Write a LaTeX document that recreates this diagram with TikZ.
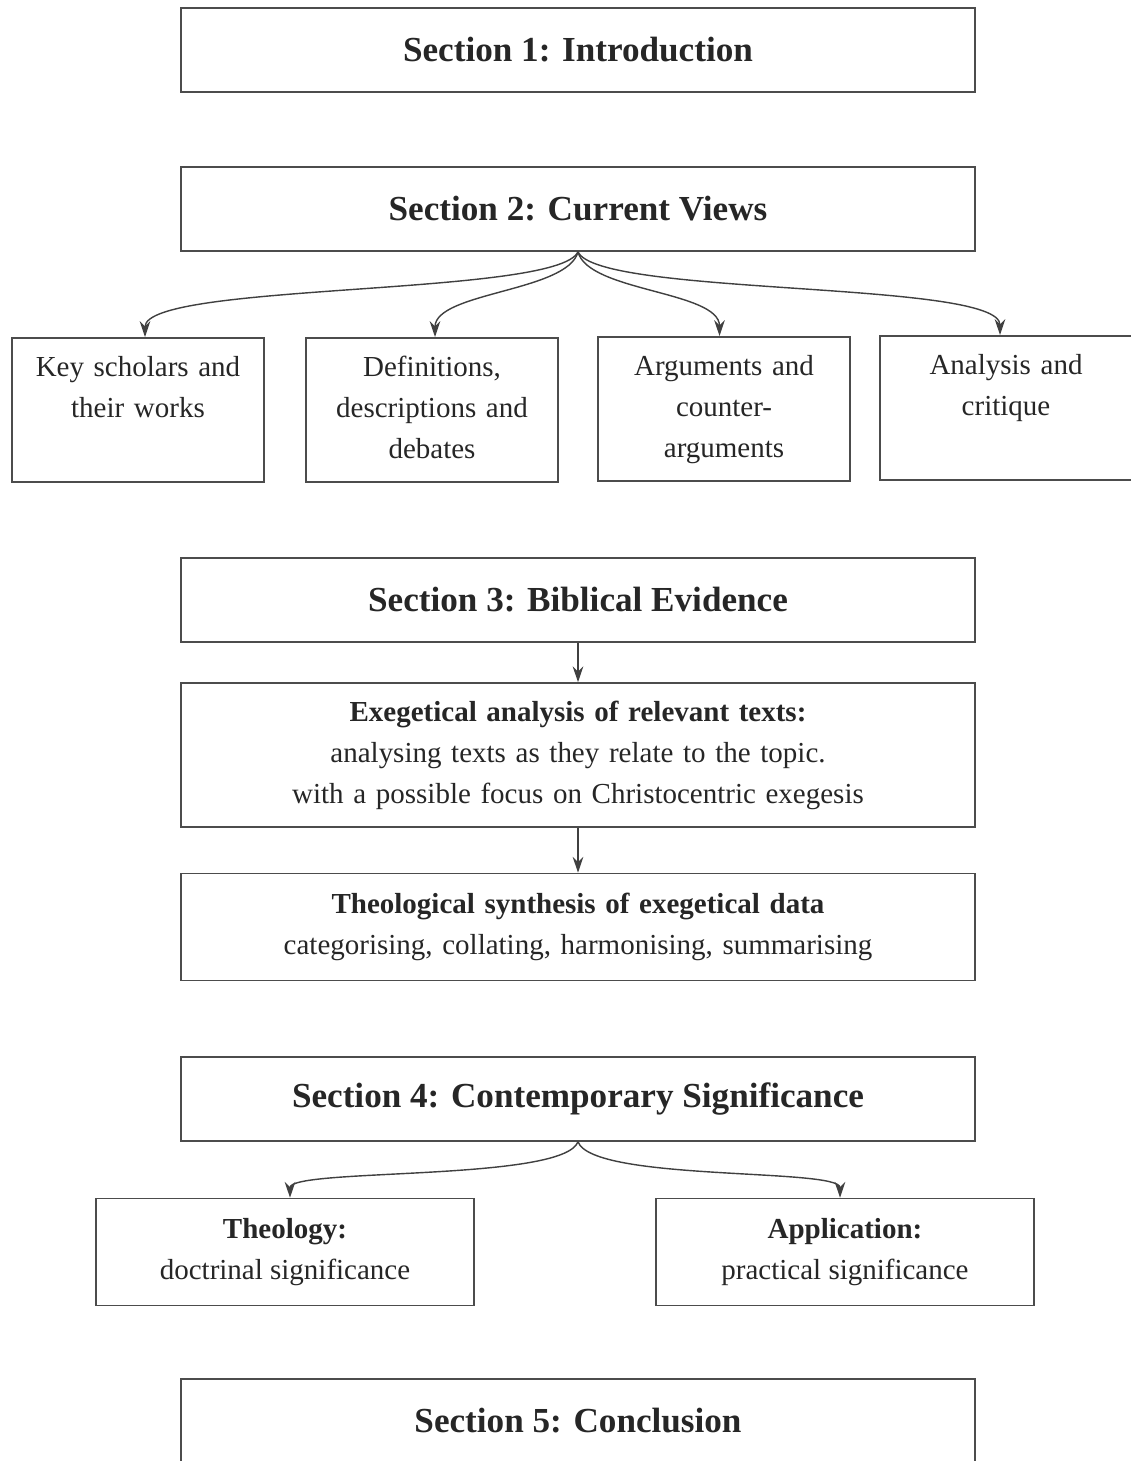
\documentclass[tikz,border=0pt]{standalone}
\usepackage{fontspec}
\setmainfont{Liberation Serif}
\usetikzlibrary{arrows.meta,positioning}

\tikzset{
    secbox/.style={draw=black!70, line width=0.9pt, minimum width=15.88cm, minimum height=1.68cm, inner sep=0pt,
        text=black!85, font=\fontsize{20}{24}\selectfont\bfseries},
    topicbox/.style={draw=black!70, line width=0.9pt, anchor=north, text width=4.8cm, align=center,
        inner xsep=0.12cm, inner ysep=0.33cm, text height=0.45cm, text depth=1.77cm,
        text=black!85, font=\fontsize{16.5}{23.3}\selectfont},
    stepbox/.style={draw=black!70, line width=0.9pt, minimum width=15.88cm, text width=15.4cm, align=center,
        text=black!85, font=\fontsize{16.5}{23.3}\selectfont},
    sigbox/.style={draw=black!70, line width=0.9pt, minimum width=7.56cm, minimum height=2.14cm, align=center,
        text=black!85, font=\fontsize{16.5}{23.3}\selectfont},
    link/.style={draw=black!75, line width=0.8pt, -{Stealth[length=9pt,width=6pt]}},
}

\begin{document}
\begin{tikzpicture}[x=0.02cm, y=-0.02cm]
    \clip (0,0) rectangle (1131,1461);
    \fill[white] (0,0) rectangle (1131,1461);

    % section headings
    \node[secbox] (s1) at (578,50) {Section 1: Introduction};
    \node[secbox] (s2) at (578,209) {Section 2: Current Views};
    \node[secbox] (s3) at (578,600) {Section 3: Biblical Evidence};
    \node[secbox] (s4) at (578,1099) {Section 4: Contemporary Significance};
    \node[secbox] (s5) at (578,1421) {Section 5: Conclusion};

    % current views
    \node[topicbox] (scholars) at (138,337) {Key scholars and\\their works};
    \node[topicbox] (defs) at (432,337) {Definitions,\\descriptions and\\debates};
    \node[topicbox] (args) at (724,336) {Arguments and\\counter-\\arguments};
    \node[topicbox] (critique) at (1006,335) {Analysis and\\critique};

    \draw[link] (s2.south) .. controls +(-20,45) and +(0,-55) .. ([xshift=0.14cm]scholars.north);
    \draw[link] (s2.south) .. controls +(-10,40) and +(0,-45) .. ([xshift=0.06cm]defs.north);
    \draw[link] (s2.south) .. controls +(10,40) and +(0,-45) .. ([xshift=-0.09cm]args.north);
    \draw[link] (s2.south) .. controls +(20,45) and +(0,-55) .. ([xshift=-0.12cm]critique.north);

    % biblical evidence
    \node[stepbox, minimum height=2.88cm] (exeg) at (578,755)
        {\textbf{Exegetical analysis of relevant texts:}\\analysing texts as they relate to the topic.\\with a possible focus on Christocentric exegesis};
    \node[stepbox, minimum height=2.14cm] (synth) at (578,927)
        {\textbf{Theological synthesis of exegetical data}\\categorising, collating, harmonising, summarising};

    \draw[link] (s3.south) -- (exeg.north);
    \draw[link] (exeg.south) -- (synth.north);

    % contemporary significance
    \node[sigbox] (theology) at (285,1252) {\textbf{Theology:}\\doctrinal significance};
    \node[sigbox] (applic) at (845,1252) {\textbf{Application:}\\practical significance};

    \draw[link] (s4.south) .. controls +(-15,40) and +(0,-30) .. ([xshift=0.1cm]theology.north);
    \draw[link] (s4.south) .. controls +(15,40) and +(0,-30) .. ([xshift=-0.1cm]applic.north);
\end{tikzpicture}
\end{document}
